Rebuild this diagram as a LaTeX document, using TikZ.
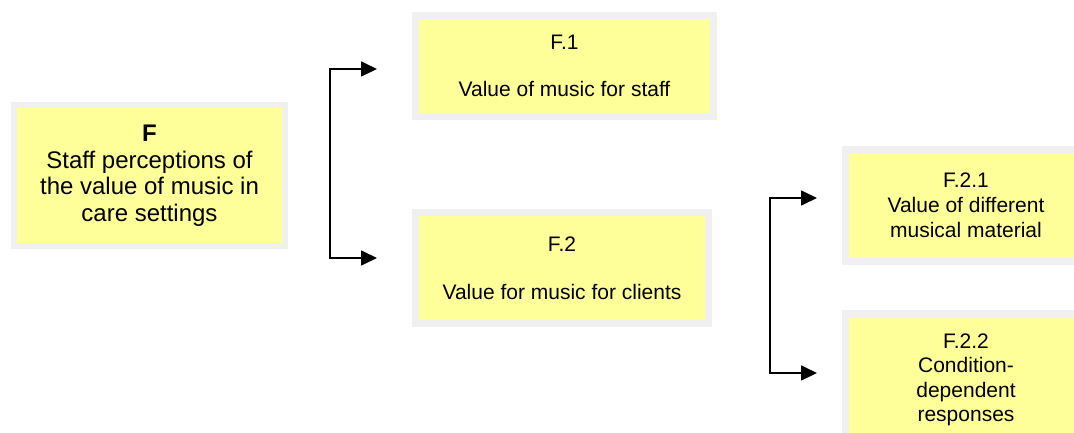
\documentclass[tikz,border=0pt]{standalone}
\usepackage{fontspec}
\setmainfont{Liberation Sans}
\usepackage{tikz}
\usetikzlibrary{arrows.meta}
\definecolor{boxyellow}{RGB}{255,255,153}
\definecolor{boxgray}{RGB}{240,240,240}
\tikzstyle{topic} = [rectangle, text centered, align=center,
    draw=boxgray, line width=7pt, fill=boxyellow, inner sep=0pt]
\tikzstyle{arrow} = [line width=1.7pt,
    {Triangle[length=16pt,width=15pt]}-{Triangle[length=16pt,width=15pt]}]

\begin{document}
\begin{tikzpicture}[x=1pt, y=1pt, font=\fontsize{21}{25}\selectfont]
            \useasboundingbox (0,0) rectangle (1074,432);
            \clip (0,0) rectangle (1074,432);

            \node (f) [topic, minimum width=271pt, minimum height=141pt, line width=6pt,
                font=\fontsize{24}{26.5}\selectfont] at (149.5,256.5)
                {\textbf{F}\\Staff perceptions of\\the value of music in\\care settings};
            \node (f1) [topic, right of=f, node distance=415pt, yshift=109.5pt,
                minimum width=298pt, minimum height=101pt] {F.1\\[22pt]Value of music for staff};
            \node (f2) [topic, below of=f1, node distance=202pt, xshift=-2.5pt,
                minimum width=293pt, minimum height=111pt] {F.2\\[23pt]Value for music for clients};
            \node (f21) [topic, right of=f2, node distance=404pt, yshift=62.5pt,
                minimum width=241pt, minimum height=112pt] {F.2.1\\Value of different\\musical material};
            \node (f22) [topic, below of=f21, node distance=174.5pt,
                minimum width=241pt, minimum height=133pt, font=\fontsize{21}{24.5}\selectfont]
                {F.2.2\\Condition-\\dependent\\responses};

            % free ends of the two brackets
            \coordinate (tipa) at ([xshift=-35pt, yshift=-3pt]f1.west);
            \coordinate (tipb) at ([xshift=-35pt, yshift=10pt]f2.west);
            \coordinate (tipc) at ([xshift=-25pt, yshift=7.5pt]f21.west);
            \coordinate (tipd) at ([xshift=-25pt, yshift=7pt]f22.west);

            \draw [arrow] (tipa) -- ++(-47,0) |- (tipb);
            \draw [arrow] (tipc) -- ++(-47,0) |- (tipd);
        \end{tikzpicture}
\end{document}
